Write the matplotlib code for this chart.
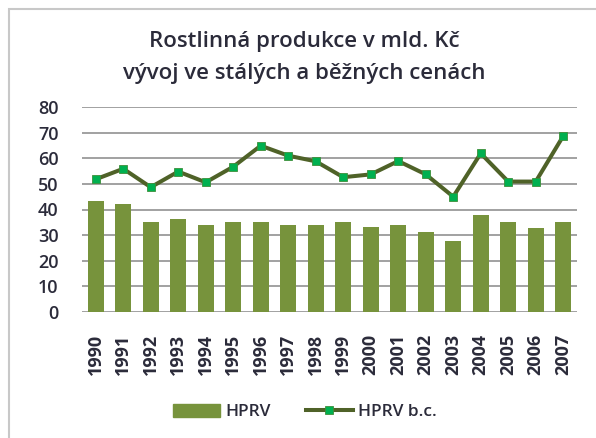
import matplotlib.pyplot as plt
from matplotlib.patches import Rectangle, Patch
from matplotlib.lines import Line2D

plt.rcParams['font.family'] = ['Open Sans', 'DejaVu Sans']

# data
years = [str(y) for y in range(1990, 2008)]
hprv = [43.4, 42.1, 35.1, 36.3, 34.0, 35.1, 35.1, 34.0, 34.0, 35.1,
        33.3, 34.0, 31.1, 27.7, 38.0, 35.1, 32.6, 35.1]
hprv_bc = [51.8, 55.9, 48.7, 54.8, 50.6, 56.7, 64.9, 61.0, 58.8, 52.6,
           53.7, 58.9, 53.7, 45.0, 61.9, 50.9, 50.9, 68.7]
yticks = list(range(0, 90, 10))

txt = '#2b2b3a'
bar_col = '#77933C'
line_col = '#4F6228'
mark_col = '#00B050'

W, H = 596, 438
fig = plt.figure(figsize=(W / 100, H / 100), dpi=100)
ax = fig.add_axes([82 / W, 1 - 312 / H, (577 - 82) / W, (312 - 107) / H])

x = list(range(len(years)))
ax.bar(x, hprv, width=0.58, color=bar_col, zorder=2)
ax.plot(x, hprv_bc, color=line_col, lw=2.9, marker='s', ms=6,
        mfc=mark_col, mec='#3d8f3a', mew=0.6, zorder=3)

ax.set_xlim(-0.5, len(years) - 0.5)
ax.set_ylim(0, 80)
ax.set_yticks(yticks)
ax.set_yticklabels([str(v) for v in yticks], fontsize=13, color=txt, fontweight='semibold')
ax.set_xticks(x)
ax.set_xticklabels(years, rotation=90, fontsize=13, color=txt, fontweight='bold')
ax.tick_params(axis='y', length=0, pad=17)
ax.tick_params(axis='x', length=0, pad=16)
ax.grid(axis='y', color='#9a9a9a', lw=1.3, zorder=0)
for s in ax.spines.values():
    s.set_visible(False)

fig.text(304 / W, 1 - 42 / H, 'Rostlinná produkce v mld. Kč', ha='center', va='center',
         fontsize=16, color=txt, fontweight='semibold')
fig.text(304 / W, 1 - 73 / H, 'vývoj ve stálých a běžných cenách', ha='center', va='center',
         fontsize=16, color=txt, fontweight='semibold')

handles = [Patch(color=bar_col),
           Line2D([], [], color=line_col, lw=2.9, marker='s', ms=6,
                  mfc=mark_col, mec='#3d8f3a', mew=0.6)]
fig.legend(handles, ['HPRV', 'HPRV b.c.'], loc='center',
           bbox_to_anchor=(305 / W, 1 - 412 / H), ncol=2, frameon=False,
           prop={'size': 12.5, 'weight': 'semibold'}, handlelength=2.7, handleheight=0.8,
           columnspacing=2.0, handletextpad=0.3, labelcolor=txt)

fig.patches.append(Rectangle((9 / W, -0.1), 1.2, 1 - 9 / H + 0.1, transform=fig.transFigure,
                             fill=False, ec='#c8c8c8', lw=1.5))

fig.savefig('out.png', dpi=100)
